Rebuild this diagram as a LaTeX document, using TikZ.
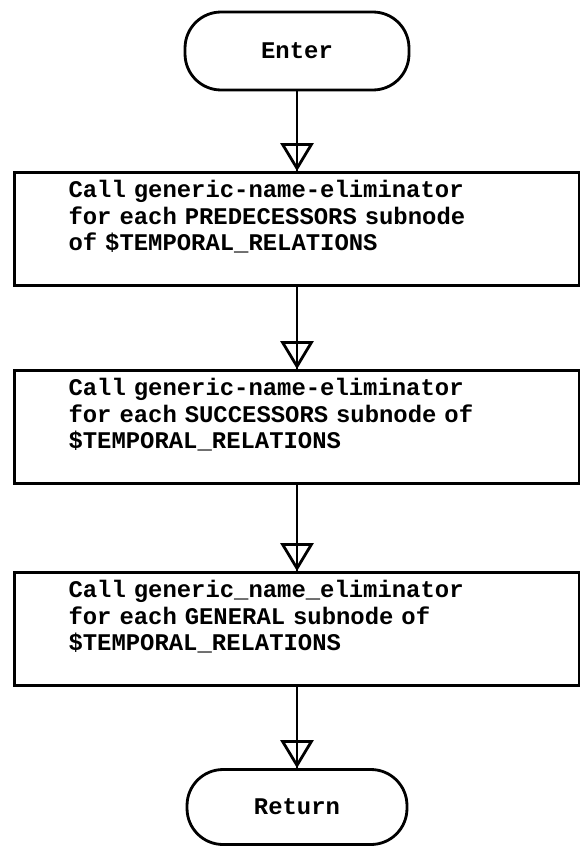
\documentclass[tikz,border=0pt]{standalone}
\usepackage{fontspec}
\setmonofont{Liberation Mono}
\usetikzlibrary{positioning, arrows.meta}

\begin{document}
\begin{tikzpicture}[x=0.02cm, y=-0.02cm, line width=1.6pt,
    font=\ttfamily\bfseries\fontsize{13.6}{15.2}\selectfont,
    term/.style={draw, rounded corners=0.72cm, minimum width=4.48cm, minimum height=1.56cm},
    proc/.style={draw, align=left, text width=9.14cm, inner xsep=1.08cm, inner ysep=0pt,
                 text height=0.5cm, text depth=1.76cm},
    flow/.style={-{Triangle[open, length=0.56cm, width=0.66cm]}}]

  \useasboundingbox (0,0) rectangle (580,848);

  \node[term] (enter) at (297,51) {Enter};
  \node[proc] (pred) at (297,229)
        {Call generic-name-eliminator\\for each PREDECESSORS subnode\\of \$TEMPORAL\_RELATIONS};
  \node[proc] (succ) at (297,427)
        {Call generic-name-eliminator\\for each SUCCESSORS subnode of\\\$TEMPORAL\_RELATIONS};
  \node[proc] (gen) at (297,629)
        {Call generic\_name\_eliminator\\for each GENERAL subnode of\\\$TEMPORAL\_RELATIONS};
  \node[term, minimum width=4.4cm, minimum height=1.5cm] (return) at (297,807) {Return};

  % connectors, line runs through the open tip
  \foreach \a/\b in {enter/pred, pred/succ, succ/gen, gen/return} {
    \draw[flow] (\a) -- (\b);
    \draw (\a.south) -- (\b.north);
  }
\end{tikzpicture}
\end{document}
